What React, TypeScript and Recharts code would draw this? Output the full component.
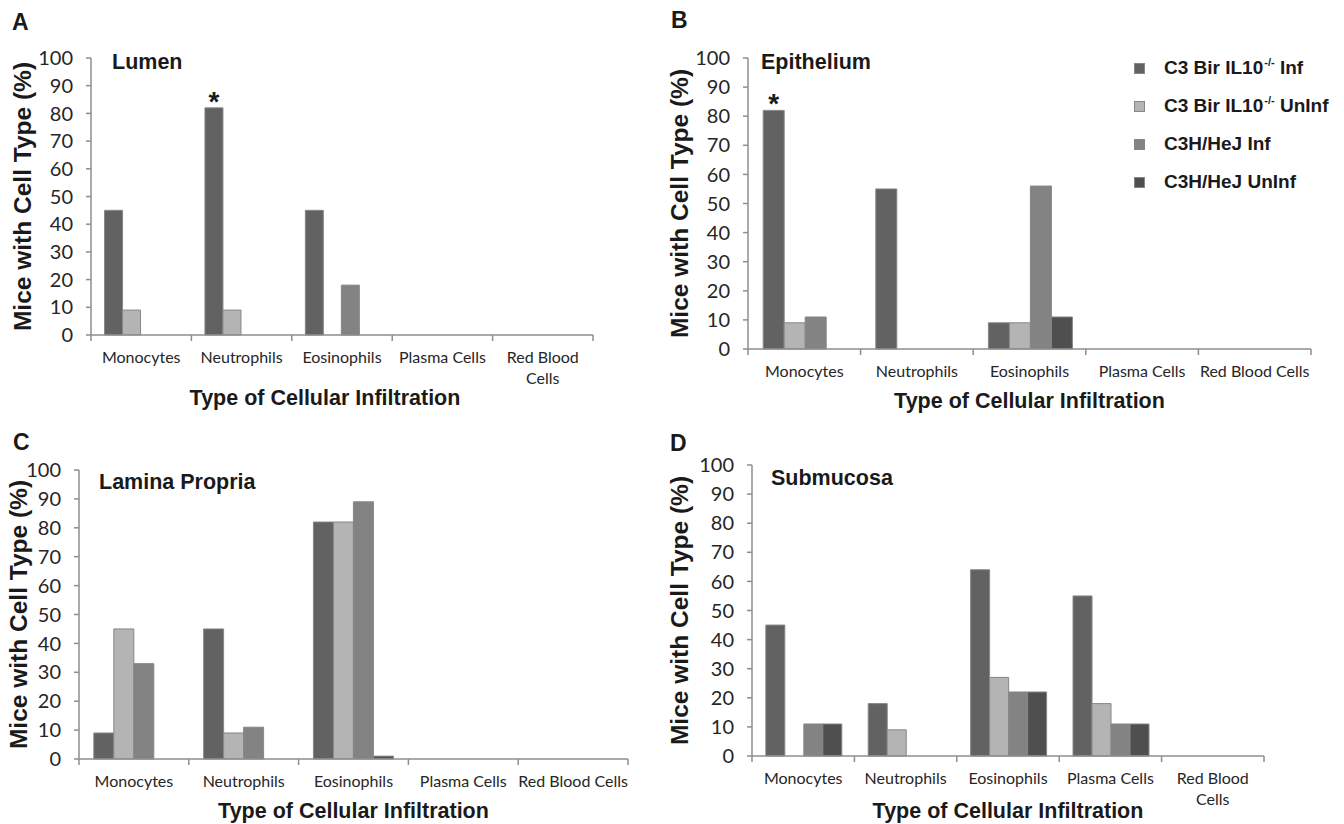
import { BarChart, Bar, XAxis, YAxis, LabelList } from 'recharts'

// ─── Data ─────────────────────────────────────────────────────────────────────

const CATEGORIES = ['Monocytes', 'Neutrophils', 'Eosinophils', 'Plasma Cells', 'Red Blood Cells']
const Y_TICKS = [0, 10, 20, 30, 40, 50, 60, 70, 80, 90, 100]

// Lumen
const LUMEN_INF = [45, 82, 45, 0, 0]
const LUMEN_UNINF = [9, 9, 0, 0, 0]
const LUMEN_HEJ_INF = [0, 0, 18, 0, 0]
const LUMEN_HEJ_UNINF = [0, 0, 0, 0, 0]
const LUMEN_MARK = ['', '*', '', '', '']

// Epithelium
const EPI_INF = [82, 55, 9, 0, 0]
const EPI_UNINF = [9, 0, 9, 0, 0]
const EPI_HEJ_INF = [11, 0, 56, 0, 0]
const EPI_HEJ_UNINF = [0, 0, 11, 0, 0]
const EPI_MARK = ['*', '', '', '', '']

// Lamina propria
const LP_INF = [9, 45, 82, 0, 0]
const LP_UNINF = [45, 9, 82, 0, 0]
const LP_HEJ_INF = [33, 11, 89, 0, 0]
const LP_HEJ_UNINF = [0, 0, 1, 0, 0]
const LP_MARK = ['', '', '', '', '']

// Submucosa
const SM_INF = [45, 18, 64, 55, 0]
const SM_UNINF = [0, 9, 27, 18, 0]
const SM_HEJ_INF = [11, 0, 22, 11, 0]
const SM_HEJ_UNINF = [11, 0, 22, 11, 0]
const SM_MARK = ['', '', '', '', '']

// ─── Styling ──────────────────────────────────────────────────────────────────

const SERIES = [
  { key: 'inf',      color: '#626262', main: 'C3 Bir IL10', sup: '-/-', tail: ' Inf' },
  { key: 'uninf',    color: '#b4b4b4', main: 'C3 Bir IL10', sup: '-/-', tail: ' UnInf' },
  { key: 'hejInf',   color: '#838383', main: 'C3H/HeJ Inf', sup: '',    tail: '' },
  { key: 'hejUninf', color: '#4f4f4f', main: 'C3H/HeJ UnInf', sup: '',  tail: '' },
]

const BAR_STROKE = '#878787'
const AXIS = '#8e8e8e'
const TEXT = '#1a1a1a'
const TICK_TEXT = '#262626'
const BOLD_FONT = '"Liberation Sans", Arial, sans-serif'
const TICK_FONT = 'Lato, "Open Sans", sans-serif'

const Y_W = 95
const PAD_T = 20
const PAD_R = 20
const PAD_B = 90
const X_AXIS_H = 1 // an x axis with zero height is not drawn at all
const EDGE_TICK = 6

const build = (inf: number[], uninf: number[], hejInf: number[], hejUninf: number[], mark: string[]) =>
  CATEGORIES.map((category, i) => ({
    category,
    inf: inf[i],
    uninf: uninf[i],
    hejInf: hejInf[i],
    hejUninf: hejUninf[i],
    mark: mark[i],
  }))

const PANELS = [
  {
    letter: 'A', title: 'Lumen', wrap: true,
    data: build(LUMEN_INF, LUMEN_UNINF, LUMEN_HEJ_INF, LUMEN_HEJ_UNINF, LUMEN_MARK),
    plot: { x: 91, y: 58, w: 502, h: 277 },
    letterPos: { x: 12, y: 30 }, titlePos: { x: 112, y: 69 },
    xTitle: { dx: -17, dy: 70 }, yTitleDx: 69,
  },
  {
    letter: 'B', title: 'Epithelium', wrap: false,
    data: build(EPI_INF, EPI_UNINF, EPI_HEJ_INF, EPI_HEJ_UNINF, EPI_MARK),
    plot: { x: 748, y: 58, w: 563, h: 291 },
    letterPos: { x: 671, y: 28 }, titlePos: { x: 761, y: 69 },
    xTitle: { dx: 0, dy: 59 }, yTitleDx: 69,
  },
  {
    letter: 'C', title: 'Lamina Propria', wrap: false,
    data: build(LP_INF, LP_UNINF, LP_HEJ_INF, LP_HEJ_UNINF, LP_MARK),
    plot: { x: 79, y: 470, w: 549, h: 289 },
    letterPos: { x: 13, y: 450 }, titlePos: { x: 99, y: 489 },
    xTitle: { dx: 0, dy: 59 }, yTitleDx: 61,
  },
  {
    letter: 'D', title: 'Submucosa', wrap: true,
    data: build(SM_INF, SM_UNINF, SM_HEJ_INF, SM_HEJ_UNINF, SM_MARK),
    plot: { x: 752, y: 465, w: 512, h: 291 },
    letterPos: { x: 670, y: 451 }, titlePos: { x: 771, y: 485 },
    xTitle: { dx: 0, dy: 62 }, yTitleDx: 73,
  },
]

const LEGEND_POS = { x: 1134, y: 49 }

// ─── Pieces ───────────────────────────────────────────────────────────────────

// Category label plus the tick marks on the category boundaries (Excel style)
const CategoryTick = (props: any) => {
  const { x, y, payload, wrap, width, index, visibleTicksCount } = props
  const band = width / visibleTicksCount
  const label: string = payload.value
  let lines = [label]
  if (wrap && label.length > 12) {
    const cut = label.lastIndexOf(' ')
    lines = [label.slice(0, cut), label.slice(cut + 1)]
  }
  const edges = [x - band / 2]
  if (index === visibleTicksCount - 1) edges.push(x + band / 2)
  return (
    <g>
      {edges.map((ex) => (
        <line key={ex} x1={ex} x2={ex} y1={y} y2={y + EDGE_TICK} stroke={AXIS} strokeWidth={1.5} />
      ))}
      <text x={x} y={y + 28} textAnchor="middle" fill={TICK_TEXT} fontSize={16} fontFamily={TICK_FONT}>
        {lines.map((l, i) => (
          <tspan key={i} x={x} dy={i === 0 ? 0 : 21}>{l}</tspan>
        ))}
      </text>
    </g>
  )
}

const XTitle = (props: any) => {
  const { viewBox, dx, dy } = props
  return (
    <text
      x={viewBox.x + viewBox.width / 2 + dx}
      y={viewBox.y + dy}
      textAnchor="middle"
      fill={TEXT}
      fontSize={21.5}
      fontWeight={700}
      fontFamily={BOLD_FONT}
    >
      Type of Cellular Infiltration
    </text>
  )
}

const YTitle = (props: any) => {
  const { viewBox, dx } = props
  const cx = viewBox.x + viewBox.width - dx
  const cy = viewBox.y + viewBox.height / 2
  return (
    <text
      x={cx}
      y={cy}
      transform={`rotate(-90 ${cx} ${cy})`}
      textAnchor="middle"
      dominantBaseline="central"
      fill={TEXT}
      fontSize={24.5}
      fontWeight={700}
      fontFamily={BOLD_FONT}
    >
      Mice with Cell Type (%)
    </text>
  )
}

// significance asterisk above a bar
const Star = (props: any) => {
  const { x, y, width, value } = props
  if (!value) return null
  return (
    <text
      x={x + width / 2}
      y={y + 3}
      textAnchor="middle"
      fill={TEXT}
      fontSize={28}
      fontWeight={700}
      fontFamily={BOLD_FONT}
    >
      {value}
    </text>
  )
}

const SeriesLegend = () => (
  <div
    style={{
      position: 'absolute',
      left: LEGEND_POS.x,
      top: LEGEND_POS.y,
      fontFamily: BOLD_FONT,
      fontWeight: 700,
      fontSize: 19,
      color: TEXT,
    }}
  >
    {SERIES.map((s) => (
      <div key={s.key} style={{ display: 'flex', alignItems: 'center', height: 38, whiteSpace: 'nowrap' }}>
        <span
          style={{
            width: 9,
            height: 9,
            background: s.color,
            border: `1px solid ${BAR_STROKE}`,
            marginRight: 19,
            flexShrink: 0,
          }}
        />
        <span>
          {s.main}
          {s.sup && (
            <span style={{ fontSize: 11, position: 'relative', top: -8, marginLeft: 1 }}>{s.sup}</span>
          )}
          {s.tail}
        </span>
      </div>
    ))}
  </div>
)

// ─── Panel ────────────────────────────────────────────────────────────────────

function Panel({ p }: { p: (typeof PANELS)[number] }) {
  const left = p.plot.x - Y_W
  const top = p.plot.y - PAD_T
  const width = p.plot.w + Y_W + PAD_R
  const height = p.plot.h + PAD_T + PAD_B

  return (
    <div style={{ position: 'absolute', left, top, width, height }}>
      <BarChart
        width={width}
        height={height}
        data={p.data}
        margin={{ top: PAD_T, right: PAD_R, left: 0, bottom: PAD_B - X_AXIS_H }}
        barGap={0}
        barCategoryGap="13.5%"
      >
        <XAxis
          dataKey="category"
          height={X_AXIS_H}
          interval={0}
          axisLine={{ stroke: AXIS, strokeWidth: 1.5 }}
          tickLine={false}
          tickSize={0}
          tickMargin={0}
          tick={<CategoryTick wrap={p.wrap} />}
          label={<XTitle dx={p.xTitle.dx} dy={p.xTitle.dy} />}
        />
        <YAxis
          width={Y_W}
          domain={[0, 100]}
          ticks={Y_TICKS}
          interval={0}
          tickSize={5}
          tickMargin={13}
          axisLine={{ stroke: AXIS, strokeWidth: 1.5 }}
          tickLine={{ stroke: AXIS, strokeWidth: 1.5 }}
          tick={{ fill: TICK_TEXT, fontSize: 20, fontFamily: TICK_FONT }}
          label={<YTitle dx={p.yTitleDx} />}
        />
        {SERIES.map((s) => (
          <Bar
            key={s.key}
            dataKey={s.key}
            name={s.main + s.sup + s.tail}
            fill={s.color}
            stroke={BAR_STROKE}
            strokeWidth={1}
            isAnimationActive={false}
          >
            {s.key === 'inf' && <LabelList dataKey="mark" content={<Star />} />}
          </Bar>
        ))}
      </BarChart>
    </div>
  )
}

export default function App() {
  return (
    <div style={{ position: 'absolute', left: 0, top: 0, width: 1344, height: 824, background: '#fff' }}>
      {PANELS.map((p) => (
        <Panel key={p.letter} p={p} />
      ))}
      <SeriesLegend />
      <svg width={1344} height={824} style={{ position: 'absolute', left: 0, top: 0, pointerEvents: 'none' }}>
        {PANELS.map((p) => (
          <g key={p.letter} fill={TEXT} fontFamily={BOLD_FONT} fontWeight={700}>
            <text x={p.letterPos.x} y={p.letterPos.y} fontSize={23}>{p.letter}</text>
            <text x={p.titlePos.x} y={p.titlePos.y} fontSize={21.5}>{p.title}</text>
          </g>
        ))}
      </svg>
    </div>
  )
}
